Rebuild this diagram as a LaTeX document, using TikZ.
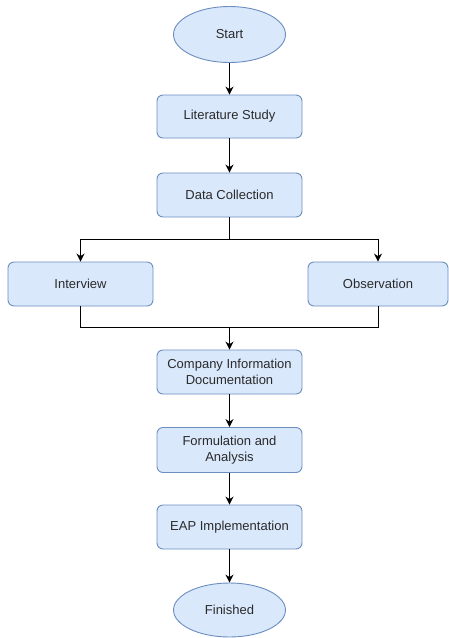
\documentclass[tikz,border=0pt]{standalone}
\usepackage{fontspec}
\setmainfont{Liberation Sans}
\usetikzlibrary{shapes.geometric,arrows.meta}
\definecolor{boxfill}{HTML}{DAE8FC}
\definecolor{boxline}{HTML}{6C8EBF}
\definecolor{txt}{HTML}{2A2A2A}
\tikzset{
  stepbox/.style={draw=boxline, fill=boxfill, rounded corners=6pt, line width=0.9pt,
    minimum width=145pt, minimum height=44pt, inner sep=0pt, align=center,
    font=\fontsize{13pt}{16pt}\selectfont, text=txt},
  termbox/.style={ellipse, draw=boxline, fill=boxfill, line width=0.9pt,
    minimum width=112pt, minimum height=56pt, inner sep=0pt, align=center,
    font=\fontsize{13pt}{16pt}\selectfont, text=txt},
  conn/.style={line width=1pt, -{Stealth[length=8pt,width=8pt]}},
  plain/.style={line width=1pt}
}
\begin{document}
\begin{tikzpicture}[x=1pt,y=-1pt]
\useasboundingbox (0,0) rectangle (449,638);
\node[termbox] (start) at (229.5,34.5) {Start};
\node[stepbox, minimum height=43pt] (lit) at (229.5,116.5) {Literature Study};
\node[stepbox] (data) at (229.5,195) {Data Collection};
\node[stepbox] (int) at (80.5,284) {Interview};
\node[stepbox, minimum width=140pt] (obs) at (378,284) {Observation};
\node[stepbox] (comp) at (229.5,372) {Company Information\\Documentation};
\node[stepbox, minimum height=45pt] (form) at (229.5,450) {Formulation and\\Analysis};
\node[stepbox] (eap) at (229.5,527) {EAP Implementation};
\node[termbox, minimum height=54pt] (fin) at (229.5,610) {Finished};
\coordinate (split) at (229.5,239);
\coordinate (merge) at (229.5,327);
\draw[conn] (start.south) -- (lit.north);
\draw[conn] (lit.south) -- (data.north);
\draw[plain] (data.south) -- (split);
\draw[conn] (split) -| (int.north);
\draw[conn] (split) -| (obs.north);
\draw[plain] (int.south) |- (merge);
\draw[plain] (obs.south) |- (merge);
\draw[conn] (merge) -- (comp.north);
\draw[conn] (comp.south) -- (form.north);
\draw[conn] (form.south) -- (eap.north);
\draw[conn] (eap.south) -- (fin.north);
\end{tikzpicture}
\end{document}
